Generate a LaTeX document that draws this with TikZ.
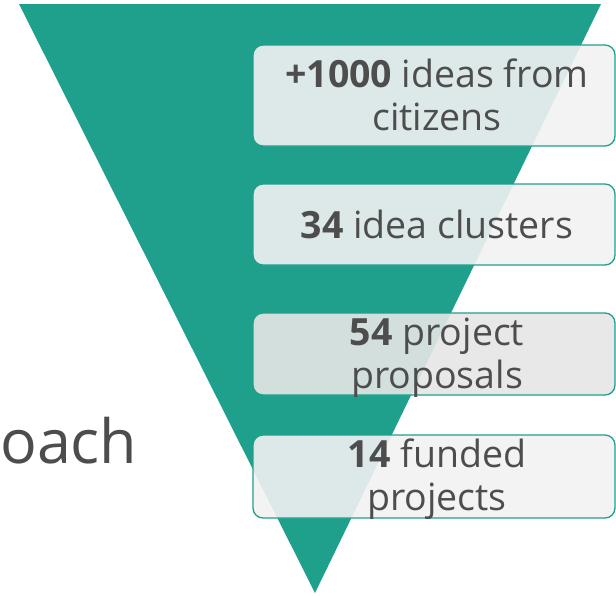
\documentclass[tikz,border=0pt]{standalone}
\usepackage{fontspec}
\setmainfont{Open Sans}
\definecolor{teal1}{HTML}{1FA08D}
\definecolor{boxfill}{HTML}{F2F2F2}
\definecolor{boxfill3}{HTML}{E6E6E6}
\definecolor{txt}{HTML}{4D4D4D}
\begin{document}
\begin{tikzpicture}[x=1pt,y=-1pt,
  box/.style={draw=teal1, line width=1.3pt, rounded corners=10pt, fill=boxfill, fill opacity=0.9, minimum width=362pt, inner sep=0pt},
  lbl/.style={text=txt, font=\fontsize{37.5}{40}\selectfont, anchor=base, inner sep=0pt},
  big/.style={text=txt, font=\fontsize{61}{66}\selectfont, anchor=base west, inner sep=0pt}]
\useasboundingbox (0,0) rectangle (616,595);
\begin{scope}
\clip (0,0) rectangle (616,595);
\fill[teal1] (19,4) -- (601,4) -- (315,593) -- cycle;
\node[box, minimum height=101pt] (b1) at (434,95.5) {};
\node[box, minimum height=81pt] (b2) at (434,224.5) {};
\node[box, fill=boxfill3, minimum height=82pt] (b3) at (434,354) {};
\node[box, minimum height=83pt] (b4) at (434,476.5) {};
\end{scope}
\node[lbl] (t1a) at (437,87) {\textbf{+1000} ideas from};
\node[lbl] (t1b) at (437,130) {citizens};
\node[lbl] (t2) at (437,238) {\textbf{34} idea clusters};
\node[lbl] (t3a) at (437,345) {\textbf{54} project};
\node[lbl] (t3b) at (437,388) {proposals};
\node[lbl] (t4a) at (437,467) {\textbf{14} funded};
\node[lbl] (t4b) at (437,510) {projects};
\node[big] (oach) at (0,463) {oach};
\end{tikzpicture}
\end{document}
